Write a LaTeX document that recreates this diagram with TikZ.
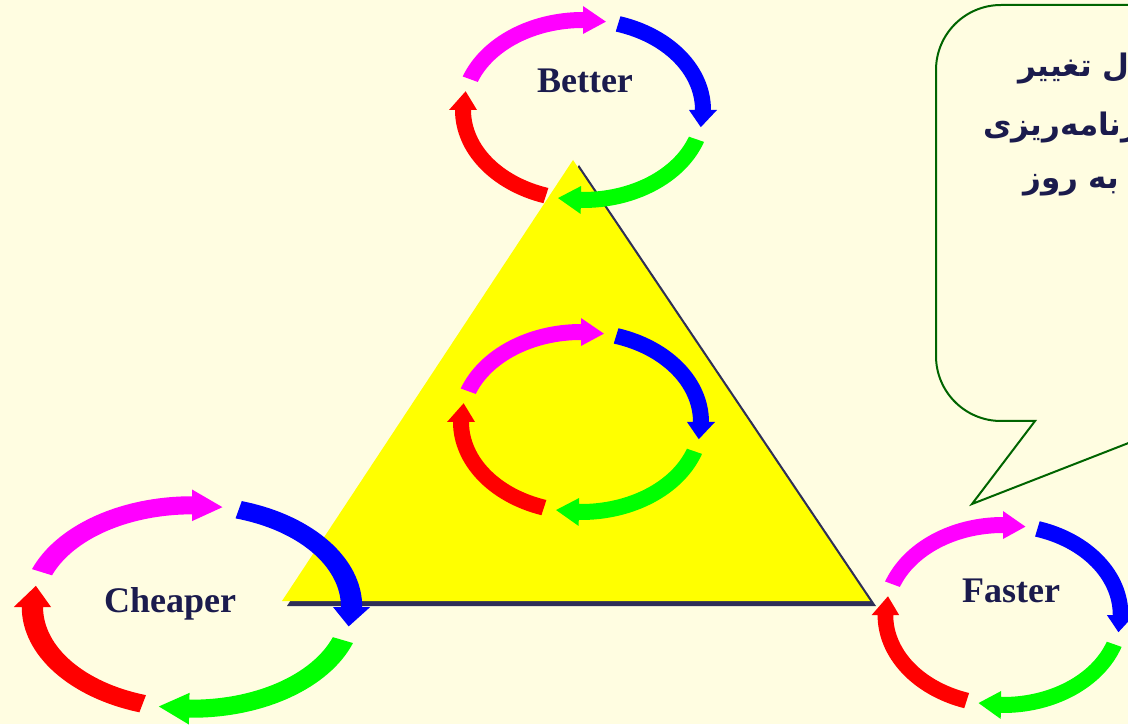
\documentclass[tikz,border=0pt]{standalone}
\usepackage{fontspec}
\setmainfont{Liberation Serif}
\newfontfamily\arabicfont[Script=Arabic]{DejaVu Sans}
\TeXXeTstate=1
\definecolor{bg}{HTML}{FFFDE1}
\definecolor{navy}{HTML}{1B1B4D}
\definecolor{pmag}{HTML}{FF00FF}
\definecolor{pblue}{HTML}{0000FF}
\definecolor{pgreen}{HTML}{00FF00}
\definecolor{pred}{HTML}{FF0000}
\definecolor{pyellow}{HTML}{FFFF00}
\definecolor{cgreen}{HTML}{006400}
\newcommand\cyclearrow[4]{%
  \fill[#1] (#2:128 and 98) arc[start angle=#2, end angle=#3, x radius=128, y radius=98]
    -- (#3:134 and 104) -- (#4:120 and 90) -- (#3:106 and 76) -- (#3:112 and 82)
    arc[start angle=#3, end angle=#2, x radius=112, y radius=82] -- cycle;}
\newcommand\drawcycle[4]{%
  \begin{scope}[shift={(#1,#2)},xscale=#3,yscale=#4]
    \cyclearrow{pmag}{160}{90}{79}
    \cyclearrow{pblue}{73}{0}{-11}
    \cyclearrow{pgreen}{-19}{-91}{-102}
    \cyclearrow{pred}{-108}{-180}{-192}
  \end{scope}}
\tikzset{
  lbl/.style={text=navy, font=\bfseries\fontsize{36}{40}\selectfont, inner sep=0pt, anchor=base},
  ar/.style={text=navy, font=\arabicfont\bfseries\fontsize{31}{34}\selectfont, inner sep=0pt, anchor=base west},
  callout/.style={draw=cgreen, line width=2pt, fill=bg, line join=miter},
}
\begin{document}
\begin{tikzpicture}[x=1pt,y=1pt]
\useasboundingbox (0,0) rectangle (1128,724);
\clip (0,0) rectangle (1128,724);
\fill[bg] (0,0) rectangle (1128,724);
% callout
\draw[callout] (972,220) -- (1185,303) -- (1400,303) -- (1400,719) -- (1001,719)
  arc[start angle=90, end angle=180, radius=65] -- (936,368)
  arc[start angle=180, end angle=270, radius=65] -- (1035,303) -- cycle;
\node[ar] (l1) at (1018,647) {\beginR اعمال تغییر\endR};
\node[ar] (l2) at (983,588) {\beginR در برنامه^^^^200cریزی\endR};
\node[ar] (l3) at (1023,535) {\beginR به روز\endR};
% triangle with shadow
\fill[navy!80!gray] (579,559) -- (287,118) -- (876,118) -- cycle;
\fill[pyellow] (573,564) -- (282,123) -- (870,123) -- cycle;
% cycles
\drawcycle{583}{614}{1}{1}
\drawcycle{581}{302}{1}{1}
\drawcycle{192}{117}{1.33}{1.13}
\drawcycle{1003}{109}{0.98}{1}
% labels
\node[lbl] (better) at (585,631) {Better};
\node[lbl] (cheaper) at (170,112) {Cheaper};
\node[lbl] (faster) at (1011,122) {Faster};
\end{tikzpicture}
\end{document}
